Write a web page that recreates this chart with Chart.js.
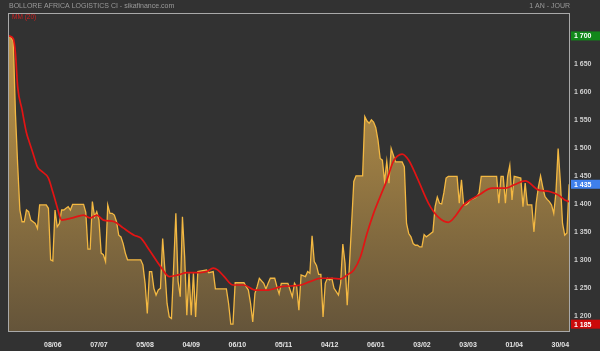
<!DOCTYPE html>
<html>
<head>
<meta charset="utf-8">
<script src="https://cdn.jsdelivr.net/npm/chart.js@4.4.0/dist/chart.umd.min.js"></script>
<style>
  html, body { margin: 0; padding: 0; background: #323232; }
  #wrap { width: 600px; height: 351px; }
</style>
</head>
<body>
<div id="wrap"><canvas id="chartCours" width="600" height="351"></canvas></div>
<script>
const titre = 'BOLLORE AFRICA LOGISTICS CI - sikafinance.com';
const periode = '1 AN - JOUR';
const mmLabel = 'MM (20)';

// axe des dates : index de séance -> libellé
const xTickIdx = [20, 41, 62, 83, 104, 125, 146, 167, 188, 209, 230, 251];
const xTickLabels = ['08/06', '07/07', '05/08', '04/09', '06/10', '05/11',
  '04/12', '06/01', '03/02', '03/03', '01/04', '30/04'];
const yTicks = [1200, 1250, 1300, 1350, 1400, 1450, 1500, 1550, 1600, 1650, 1700];

// cours de clôture (séance, valeur)
const coursJour = [
  0, 1, 2, 3, 4, 5, 6, 7, 8, 9,
  10, 11, 12, 13, 14, 17, 18, 19, 20, 21,
  22, 23, 24, 25, 26, 27, 28, 29, 34, 35,
  36, 37, 38, 39, 40, 41, 42, 43, 44, 45,
  46, 47, 48, 49, 50, 51, 52, 53, 54, 60,
  61, 62, 63, 64, 65, 66, 67, 68, 69, 70,
  71, 72, 73, 74, 75, 76, 77, 78, 79, 80,
  81, 82, 83, 84, 85, 86, 90, 91, 93, 94,
  99, 100, 101, 102, 103, 107, 108, 109, 110, 111,
  112, 113, 114, 116, 117, 118, 119, 121, 122, 123,
  124, 127, 128, 129, 130, 131, 132, 133, 135, 136,
  137, 138, 139, 140, 141, 142, 143, 144, 145, 146,
  147, 148, 149, 150, 151, 152, 153, 154, 155, 156,
  157, 158, 161, 162, 163, 164, 165, 166, 167, 168,
  169, 170, 171, 172, 173, 174, 175, 176, 179, 180,
  181, 182, 183, 184, 185, 186, 187, 188, 189, 190,
  191, 192, 193, 194, 195, 196, 197, 198, 199, 200,
  204, 205, 206, 207, 208, 209, 210, 212, 213, 214,
  215, 222, 223, 224, 225, 226, 227, 228, 229, 230,
  233, 234, 235, 236, 238, 239, 240, 241, 242, 243,
  244, 245, 246, 247, 248, 249, 250, 251, 252, 253,
  254, 255,
];
const coursVal = [
  1700, 1697, 1690, 1560, 1470, 1389, 1368, 1368, 1389, 1386,
  1371, 1368, 1365, 1356, 1398, 1398, 1392, 1300, 1298, 1389,
  1359, 1365, 1389, 1389, 1392, 1395, 1389, 1399, 1399, 1385,
  1319, 1319, 1404, 1377, 1386, 1371, 1312, 1309, 1297, 1398,
  1383, 1383, 1380, 1368, 1344, 1341, 1329, 1312, 1300, 1300,
  1291, 1258, 1204, 1279, 1279, 1249, 1237, 1246, 1249, 1338,
  1282, 1222, 1198, 1195, 1288, 1383, 1262, 1234, 1377, 1306,
  1201, 1276, 1201, 1276, 1198, 1279, 1282, 1277, 1279, 1248,
  1248, 1222, 1185, 1185, 1259, 1259, 1252, 1246, 1222, 1189,
  1240, 1252, 1267, 1258, 1248, 1258, 1267, 1267, 1252, 1239,
  1258, 1258, 1246, 1234, 1258, 1252, 1210, 1273, 1270, 1279,
  1276, 1343, 1297, 1290, 1274, 1274, 1198, 1258, 1267, 1264,
  1267, 1249, 1243, 1237, 1258, 1328, 1294, 1219, 1290, 1365,
  1440, 1450, 1450, 1556, 1548, 1544, 1550, 1546, 1536, 1514,
  1481, 1478, 1440, 1476, 1437, 1499, 1487, 1475, 1475, 1466,
  1365, 1347, 1341, 1329, 1326, 1326, 1323, 1323, 1345, 1341,
  1344, 1347, 1350, 1395, 1412, 1401, 1400, 1420, 1446, 1449,
  1449, 1401, 1443, 1398, 1398, 1401, 1407, 1410, 1413, 1419,
  1449, 1449, 1401, 1449, 1449, 1401, 1449, 1469, 1407, 1449,
  1446, 1395, 1437, 1398, 1398, 1350, 1401, 1430, 1450, 1430,
  1413, 1408, 1404, 1398, 1383, 1420, 1499, 1440, 1365, 1344,
  1348, 1435,
];

const mmJour = [
  0, 2, 3, 4, 6, 8, 9, 11, 13, 15,
  18, 20, 22, 24, 29, 34, 37, 40, 43, 48,
  52, 57, 60, 64, 69, 73, 77, 81, 87, 90,
  93, 95, 98, 102, 107, 112, 118, 124, 133, 137,
  142, 147, 151, 154, 157, 160, 163, 166, 169, 172,
  175, 179, 182, 186, 191, 195, 200, 203, 207, 214,
  220, 226, 230, 235, 241, 246, 250, 253, 255,
];
const mmVal = [
  1700, 1695, 1668, 1609, 1568, 1527, 1514, 1490, 1466, 1458,
  1446, 1421, 1394, 1371, 1375, 1380, 1375, 1380, 1371, 1368,
  1357, 1344, 1339, 1317, 1288, 1270, 1273, 1277, 1277, 1279,
  1285, 1282, 1270, 1255, 1255, 1246, 1246, 1252, 1255, 1261,
  1267, 1267, 1266, 1273, 1282, 1305, 1347, 1383, 1413, 1442,
  1476, 1489, 1478, 1445, 1401, 1378, 1367, 1377, 1398, 1416,
  1428, 1428, 1434, 1441, 1425, 1422, 1416, 1407, 1404,
];

const plusHaut = Math.max(...coursVal);
const plusBas = Math.min(...coursVal);
const dernier = coursVal[coursVal.length - 1];

const fmt = (v) => String(v).replace(/\B(?=(\d{3})+(?!\d))/g, ' ');

const decor = {
  id: 'decor',
  beforeDraw(chart) {
    const { ctx } = chart;
    ctx.save();
    ctx.fillStyle = '#323232';
    ctx.fillRect(0, 0, chart.width, chart.height);
    ctx.restore();
  },
  afterDatasetsDraw(chart) {
    const { ctx, chartArea: a } = chart;
    ctx.save();
    ctx.strokeStyle = '#a9a9a9';
    ctx.lineWidth = 1;
    ctx.strokeRect(a.left + 0.5, a.top + 0.5, a.right - a.left - 1, a.bottom - a.top - 1);
    ctx.restore();
  },
  afterDraw(chart) {
    const { ctx, chartArea: a } = chart;
    const y = chart.scales.y;
    ctx.save();
    ctx.textBaseline = 'middle';
    ctx.font = '7px "Liberation Sans", Arial, sans-serif';
    ctx.fillStyle = '#9a9a9a';
    ctx.textAlign = 'left';
    ctx.fillText(titre, 9, 6);
    ctx.textAlign = 'right';
    ctx.fillText(periode, a.right, 6);
    ctx.textAlign = 'left';
    ctx.fillStyle = '#d02020';
    ctx.font = '6.5px "Liberation Sans", Arial, sans-serif';
    ctx.fillText(mmLabel, 12, 17.5);

    const boite = (val, couleur) => {
      const py = y.getPixelForValue(val);
      ctx.fillStyle = couleur;
      ctx.fillRect(a.right + 1, py - 4.5, chart.width - a.right - 1, 9);
      ctx.fillStyle = '#ffffff';
      ctx.font = 'bold 7px "Liberation Sans", Arial, sans-serif';
      ctx.fillText(fmt(val), a.right + 4, py + 0.5);
    };
    boite(plusHaut, '#12881a');
    boite(dernier, '#3f80ec');
    boite(plusBas, '#cc0a0a');
    ctx.restore();
  },
};

new Chart(document.getElementById('chartCours'), {
  type: 'line',
  data: {
    datasets: [
      {
        label: mmLabel,
        data: mmJour.map((j, i) => ({ x: j, y: mmVal[i] })),
        borderColor: '#e31414',
        borderWidth: 1.7,
        pointRadius: 0,
        tension: 0.4,
        cubicInterpolationMode: 'monotone',
        fill: false,
      },
      {
        label: 'Cours',
        data: coursJour.map((j, i) => ({ x: j, y: coursVal[i] })),
        borderColor: '#f3b842',
        borderWidth: 1.3,
        pointRadius: 0,
        tension: 0,
        fill: 'start',
        backgroundColor: (c) => {
          const { ctx, chartArea } = c.chart;
          if (!chartArea) return 'rgba(0,0,0,0)';
          const g = ctx.createLinearGradient(0, chartArea.top, 0, chartArea.bottom);
          g.addColorStop(0, '#c89d4a');
          g.addColorStop(1, '#64543a');
          return g;
        },
      },
    ],
  },
  options: {
    responsive: false,
    animation: false,
    devicePixelRatio: 1,
    layout: { padding: { left: 8, top: 13, right: 0, bottom: 0 } },
    plugins: {
      legend: { display: false },
      tooltip: { enabled: false },
    },
    scales: {
      x: {
        type: 'linear',
        min: -0.4,
        max: 255.4,
        grid: { display: false, drawTicks: false },
        border: { display: false },
        afterBuildTicks: (s) => { s.ticks = xTickIdx.map((v) => ({ value: v })); },
        afterFit: (s) => { s.height = 19; },
        ticks: {
          autoSkip: false,
          maxRotation: 0,
          padding: 9,
          color: '#e4e4e4',
          font: { family: '"Liberation Sans", Arial, sans-serif', size: 7, weight: 'bold' },
          callback: (v) => xTickLabels[xTickIdx.indexOf(v)],
        },
      },
      y: {
        position: 'right',
        min: 1171,
        max: 1741,
        grid: { display: false, drawTicks: false },
        border: { display: false },
        afterBuildTicks: (s) => { s.ticks = yTicks.map((v) => ({ value: v })); },
        afterFit: (s) => { s.width = 30; },
        ticks: {
          padding: 4,
          color: '#cfcfcf',
          font: { family: '"Liberation Sans", Arial, sans-serif', size: 7, weight: 'bold' },
          callback: (v) => fmt(v),
        },
      },
    },
  },
  plugins: [decor],
});
</script>
</body>
</html>
